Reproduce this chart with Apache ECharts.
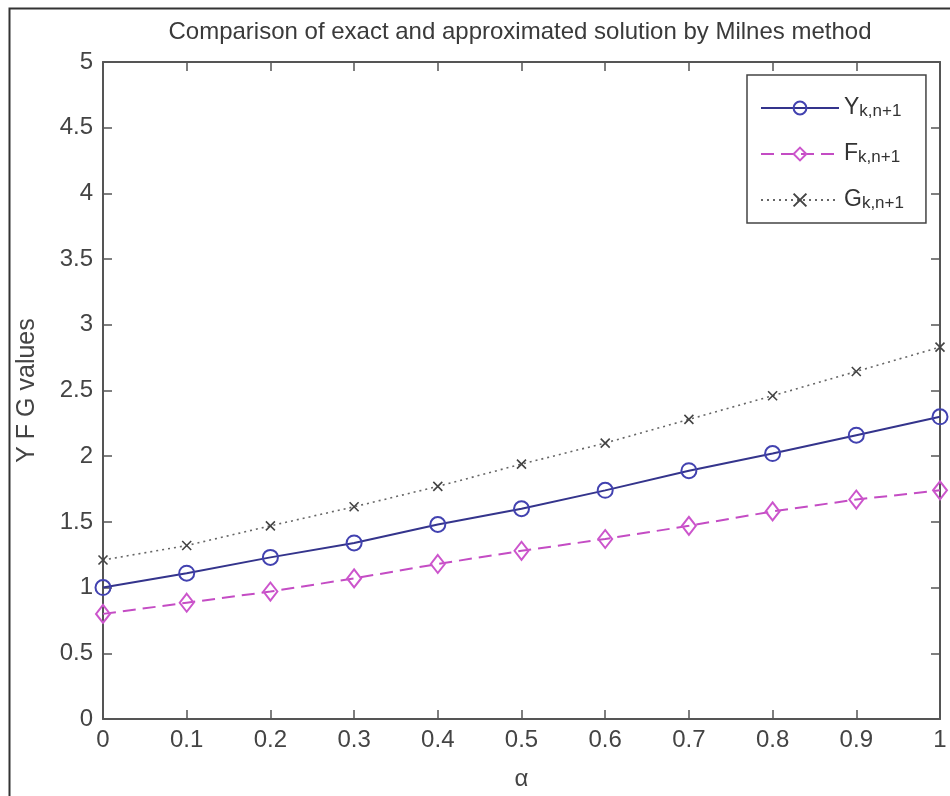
<!DOCTYPE html>
<html>
<head>
<meta charset="utf-8">
<script src="https://cdn.jsdelivr.net/npm/echarts@6/dist/echarts.min.js"></script>
<style>
html,body{margin:0;padding:0;background:#fff;}
#chart{width:950px;height:796px;}
</style>
</head>
<body>
<div id="chart"></div>
<script>
var alpha = [0, 0.1, 0.2, 0.3, 0.4, 0.5, 0.6, 0.7, 0.8, 0.9, 1];
var yValues = [1.00, 1.11, 1.23, 1.34, 1.48, 1.60, 1.74, 1.89, 2.02, 2.16, 2.30];
var fValues = [0.80, 0.885, 0.97, 1.07, 1.18, 1.28, 1.37, 1.47, 1.58, 1.67, 1.74];
var gValues = [1.21, 1.32, 1.47, 1.615, 1.77, 1.94, 2.10, 2.28, 2.46, 2.645, 2.83];
var seriesNames = ['Y', 'F', 'G'];
var subscript = 'k,n+1';
var titleText = 'Comparison of exact and approximated solution by Milnes method';
var xName = 'α';
var yName = 'Y F G values';

function pairs(vals) { return alpha.map(function (a, i) { return [a, vals[i]]; }); }

var FONT = '"Liberation Sans", Arial, sans-serif';
var TXT = '#444';
var AX = '#555';

var chart = echarts.init(document.getElementById('chart'), null, {renderer: 'canvas'});
function axisCommon() {
  return {
    type: 'value',
    axisLine: {show: true, onZero: false, lineStyle: {color: AX, width: 2}},
    axisTick: {show: true, inside: true, length: 9, lineStyle: {color: AX, width: 1.5}},
    splitLine: {show: false}
  };
}
chart.setOption({
  animation: false,
  backgroundColor: '#fff',
  title: {
    text: titleText, left: 520, top: 20, textAlign: 'center', padding: 0,
    textStyle: {fontFamily: FONT, fontSize: 24, fontWeight: 'normal', color: '#3a3a3a'}
  },
  grid: {left: 103, right: 10, top: 62, bottom: 73},
  graphic: [{
    type: 'rect', left: 7, top: 6, silent: true,
    shape: {width: 960, height: 810},
    style: {fill: 'none', stroke: '#333', lineWidth: 2}
  }],
  legend: {
    orient: 'vertical', left: 747, top: 75,
    padding: [10, 22, 11, 13], itemGap: 11,
    itemWidth: 78, itemHeight: 16,
    backgroundColor: '#fff', borderColor: '#444', borderWidth: 1.5,
    data: seriesNames,
    formatter: function (n) { return '{a|' + n + '}{b|' + subscript + '}'; },
    textStyle: {
      fontFamily: FONT, color: '#333',
      rich: {
        a: {fontFamily: FONT, fontSize: 23, lineHeight: 24, verticalAlign: 'top', color: '#333'},
        b: {fontFamily: FONT, fontSize: 17, lineHeight: 18, padding: [18, 0, 0, 0], verticalAlign: 'bottom', color: '#333'}
      }
    }
  },
  xAxis: [
    Object.assign(axisCommon(), {
      min: 0, max: 1, interval: 0.1, position: 'bottom',
      name: xName, nameLocation: 'middle', nameGap: 48,
      nameTextStyle: {fontFamily: FONT, fontSize: 24, color: TXT},
      axisLabel: {margin: 9, fontFamily: FONT, fontSize: 24, color: TXT}
    }),
    Object.assign(axisCommon(), {
      min: 0, max: 1, interval: 0.1, position: 'top', axisLabel: {show: false}
    })
  ],
  yAxis: [
    Object.assign(axisCommon(), {
      min: 0, max: 5, interval: 0.5, position: 'left',
      name: yName, nameLocation: 'middle', nameGap: 63, nameRotate: 90,
      nameTextStyle: {fontFamily: FONT, fontSize: 25, color: TXT},
      axisLabel: {margin: 10, fontFamily: FONT, fontSize: 24, color: TXT}
    }),
    Object.assign(axisCommon(), {
      min: 0, max: 5, interval: 0.5, position: 'right', axisLabel: {show: false}
    })
  ],
  series: [
    {
      name: 'Y', type: 'line', xAxisIndex: 0, yAxisIndex: 0, data: pairs(yValues),
      symbol: 'circle', symbolSize: 15,
      lineStyle: {color: '#34348c', width: 2, type: 'solid'},
      itemStyle: {color: 'rgba(255,255,255,0)', borderColor: '#4242b0', borderWidth: 2}
    },
    {
      name: 'F', type: 'line', xAxisIndex: 0, yAxisIndex: 0, data: pairs(fValues),
      symbol: 'diamond', symbolSize: [14, 18],
      lineStyle: {color: '#c44cc4', width: 2, type: [13, 7]},
      itemStyle: {color: 'rgba(255,255,255,0)', borderColor: '#cc55cc', borderWidth: 2}
    },
    {
      name: 'G', type: 'line', xAxisIndex: 0, yAxisIndex: 0, data: pairs(gValues),
      symbol: 'path://M0,0L10,10M10,0L0,10', symbolSize: 9,
      lineStyle: {color: '#666', width: 1.6, type: [2, 4]},
      itemStyle: {color: 'rgba(0,0,0,0)', borderColor: '#444', borderWidth: 1.6}
    }
  ]
});
</script>
</body>
</html>
